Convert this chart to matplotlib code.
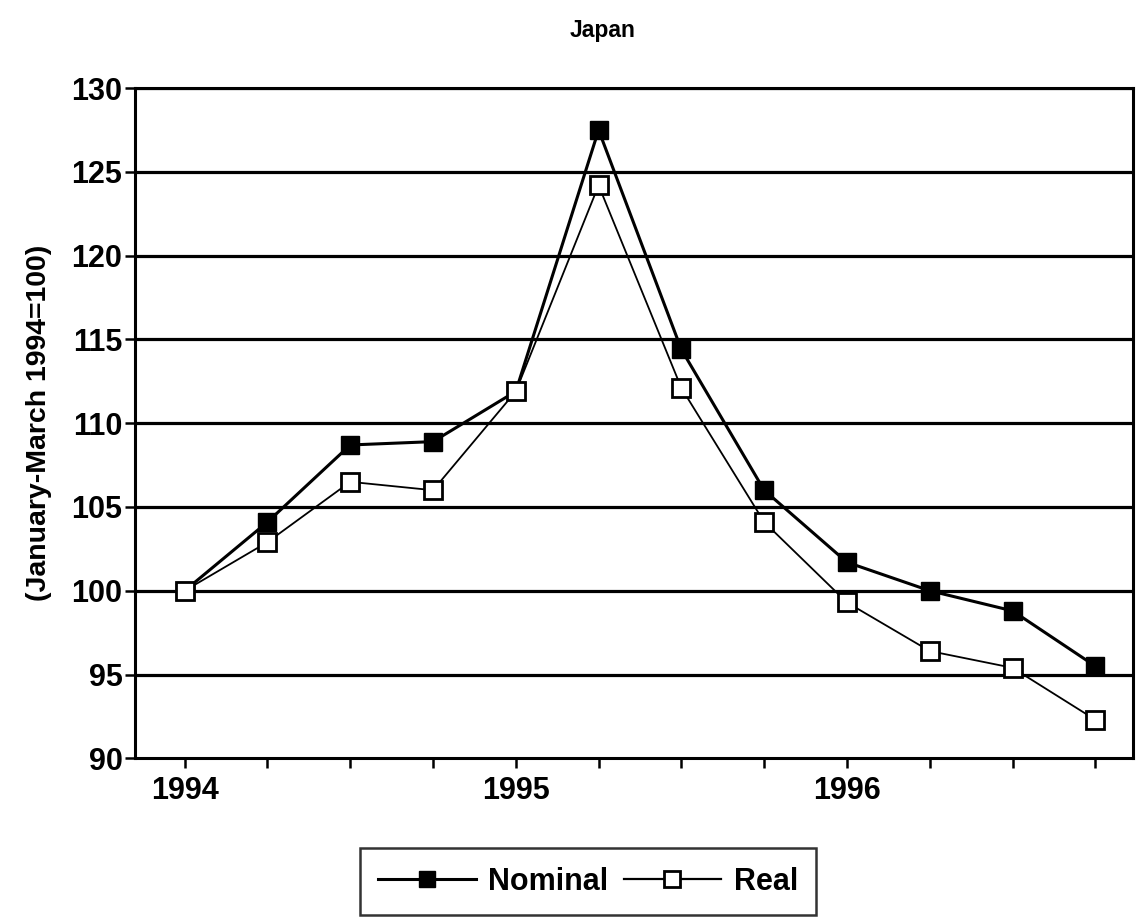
import matplotlib
matplotlib.use("Agg")
import matplotlib.pyplot as plt
from matplotlib.lines import Line2D

plt.rcParams['font.family'] = ['Liberation Sans', 'DejaVu Sans']
plt.rcParams['font.weight'] = 'bold'

quarters = list(range(12))
tick_labels = ["1994", "1995", "1996"]
tick_label_pos = [0, 4, 8]
nominal = [100.0, 104.1, 108.7, 108.9, 111.9, 127.5, 114.4, 106.0, 101.7, 100.0, 98.8, 95.5]
real = [100.0, 102.9, 106.5, 106.0, 111.9, 124.2, 112.1, 104.1, 99.3, 96.4, 95.4, 92.3]
yticks = [90, 95, 100, 105, 110, 115, 120, 125, 130]

fig = plt.figure(figsize=(11.44, 9.18), dpi=100)
ax = fig.add_axes([0.118, 0.174, 0.872, 0.730])

for y in yticks[1:]:
    ax.axhline(y, color='black', lw=2.3, zorder=1)

ax.plot(quarters, nominal, color='black', lw=2.2, marker='s', ms=13,
        markerfacecolor='black', markeredgecolor='black', zorder=3)
ax.plot(quarters, real, color='black', lw=1.3, marker='s', ms=13,
        markerfacecolor='white', markeredgecolor='black', markeredgewidth=2, zorder=4)

ax.set_ylim(90, 130)
ax.set_xlim(-0.6, 11.45)
ax.set_yticks(yticks)
ax.set_yticklabels([str(v) for v in yticks], fontsize=22, fontweight='bold')
ax.set_xticks(quarters)
ax.set_xticklabels([tick_labels[tick_label_pos.index(q)] if q in tick_label_pos else "" for q in quarters],
                   fontsize=22, fontweight='bold')
ax.tick_params(axis='both', direction='out', length=7, width=1.8, color='black')
ax.tick_params(axis='y', pad=2)
ax.tick_params(axis='x', pad=6)
for s in ax.spines.values():
    s.set_linewidth(2.2)
    s.set_color('black')

ax.set_ylabel("(January-March 1994=100)", fontsize=20.5, fontweight='bold', labelpad=14)
fig.text(0.527, 0.967, "Japan", ha='center', va='center', fontsize=16.5, fontweight='bold')

handles = [
    Line2D([], [], color='black', lw=2.2, marker='s', ms=12, markerfacecolor='black', markeredgecolor='black'),
    Line2D([], [], color='black', lw=1.6, marker='s', ms=12, markerfacecolor='white', markeredgecolor='black', markeredgewidth=2),
]
leg = fig.legend(handles, ["Nominal", "Real"], loc='center', bbox_to_anchor=(0.514, 0.0395),
                 ncol=2, frameon=True, fancybox=False, fontsize=22, handlelength=3.2,
                 columnspacing=0.5, handletextpad=0.4, borderpad=0.6, borderaxespad=0)
leg.get_frame().set_edgecolor('black')
leg.get_frame().set_linewidth(1.8)
for t in leg.get_texts():
    t.set_fontweight('bold')

fig.savefig("out.png", dpi=100, facecolor='white')
